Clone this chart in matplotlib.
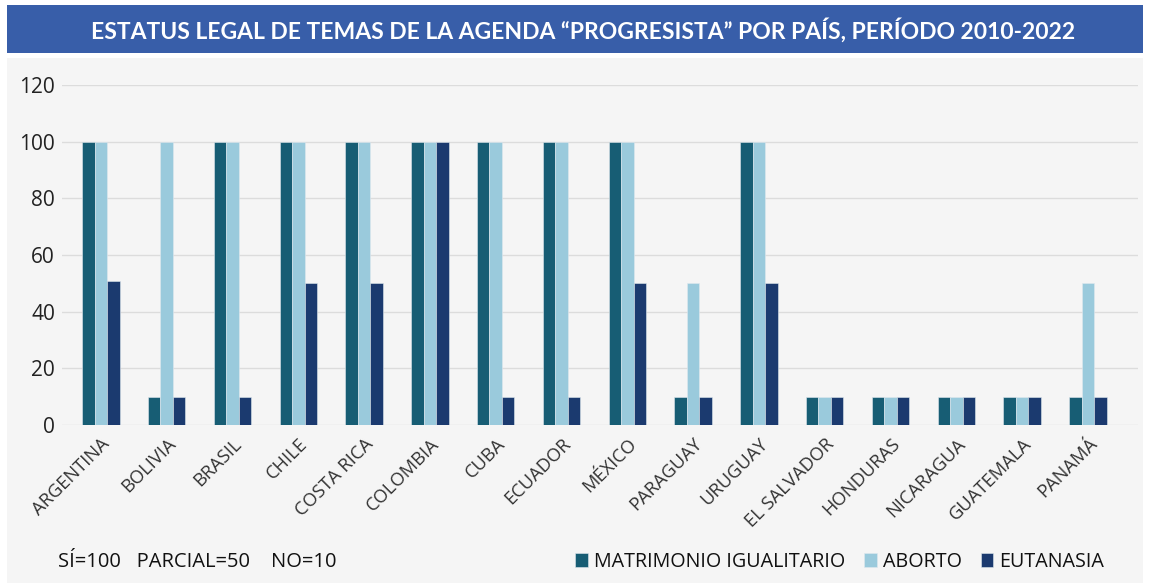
import numpy as np
import matplotlib.pyplot as plt
from matplotlib.patches import Rectangle

plt.rcParams['font.family'] = ['Open Sans', 'DejaVu Sans']

paises = ['ARGENTINA', 'BOLIVIA', 'BRASIL', 'CHILE', 'COSTA RICA', 'COLOMBIA',
          'CUBA', 'ECUADOR', 'MÉXICO', 'PARAGUAY', 'URUGUAY', 'EL SALVADOR',
          'HONDURAS', 'NICARAGUA', 'GUATEMALA', 'PANAMÁ']
matrimonio = [100, 10, 100, 100, 100, 100, 100, 100, 100, 10, 100, 10, 10, 10, 10, 10]
aborto = [100, 100, 100, 100, 100, 100, 100, 100, 100, 50, 100, 10, 10, 10, 10, 50]
eutanasia = [51, 10, 10, 50, 50, 100, 10, 10, 50, 10, 50, 10, 10, 10, 10, 10]

series = [('MATRIMONIO IGUALITARIO', matrimonio, '#175d74'),
          ('ABORTO', aborto, '#9acadc'),
          ('EUTANASIA', eutanasia, '#1b3a6f')]

W, H = 1150, 583
fig = plt.figure(figsize=(W / 100, H / 100), dpi=100)
fig.patch.set_facecolor('white')

# panel gris y banda del titulo
fig.patches.append(Rectangle((7 / W, 0), 1136 / W, 1 - 58 / H, transform=fig.transFigure,
                             facecolor='#f5f5f5', edgecolor='none', zorder=-10))
fig.patches.append(Rectangle((7 / W, 1 - 53 / H), 1136 / W, 48 / H, transform=fig.transFigure,
                             facecolor='#385ea9', edgecolor='none', zorder=-10))
fig.text(583 / W, 1 - 30 / H, 'ESTATUS LEGAL DE TEMAS DE LA AGENDA “PROGRESISTA” POR PAÍS, PERÍODO 2010-2022',
         ha='center', va='center', color='white', fontsize=16.5, fontweight='bold',
         family=['Lato', 'DejaVu Sans'])

ax = fig.add_axes([62 / W, 1 - 425 / H, 1076 / W, 340 / H])
ax.set_facecolor('none')

x = np.arange(len(paises))
bw = 0.19
for i, (nombre, vals, color) in enumerate(series):
    ax.bar(x + (i - 1) * bw, vals, bw, color=color, label=nombre,
           edgecolor='#dfe8ee', linewidth=0.4, zorder=3)

ax.set_ylim(0, 120)
ax.set_yticks(range(0, 121, 20))
ax.set_xlim(-0.59, 15.76)
ax.grid(axis='y', color='#dcdcdc', linewidth=1, zorder=0)
for s in ax.spines.values():
    s.set_visible(False)
ax.tick_params(axis='y', length=0, labelsize=15, labelcolor='#222222', pad=5)
ax.tick_params(axis='x', length=0, pad=7)
ax.set_xticks(x)
ax.set_xticklabels(paises, rotation=45, ha='right', rotation_mode='anchor',
                   fontsize=13.2, color='#333333')

fig.text(58 / W, 1 - 562 / H, 'SÍ=100   PARCIAL=50    NO=10', ha='left', va='center',
         fontsize=14.5, color='#111111')

leg = fig.legend(loc='center right', bbox_to_anchor=(1112 / W, 1 - 562 / H), ncol=3,
                 frameon=False, fontsize=14.2, handlelength=0.65, handleheight=0.65,
                 handletextpad=0.3, columnspacing=0.95, borderaxespad=0)
for t in leg.get_texts():
    t.set_color('#111111')

fig.savefig('out.png', dpi=100)
